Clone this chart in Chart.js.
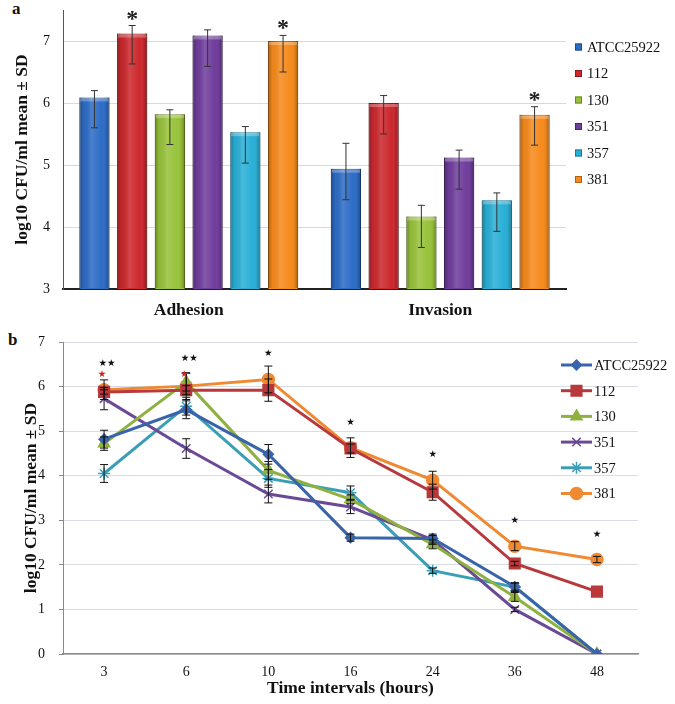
<!DOCTYPE html>
<html>
<head>
<meta charset="utf-8">
<script src="https://cdn.jsdelivr.net/npm/chart.js@4.4.0/dist/chart.umd.min.js"></script>
<style>
  body { margin: 0; background: #fff; width: 675px; height: 704px; position: relative; overflow: hidden; }
  canvas { position: absolute; left: 0; }
  #ca { top: 0; }
  #cb { top: 330px; }
  .tag { position: absolute; font: bold 17px "Liberation Serif", serif; color: #111; }
</style>
</head>
<body>
<div class="tag" style="left:12px;top:-1px">a</div>
<div class="tag" style="left:8px;top:330px">b</div>
<canvas id="ca" width="675" height="325"></canvas>
<canvas id="cb" width="675" height="374"></canvas>
<script>
const F = '"Liberation Serif", "Times New Roman", serif';

// panel a: adhesion / invasion, log10 CFU/ml
const strains = ['ATCC25922', '112', '130', '351', '357', '381'];
const phases = ['Adhesion', 'Invasion'];
const adhesionMean = [6.09, 7.12, 5.82, 7.09, 5.53, 7.00];
const adhesionErrUp = [0.11, 0.13, 0.07, 0.09, 0.09, 0.09];
const adhesionErrDown = [0.49, 0.49, 0.49, 0.50, 0.50, 0.50];
const invasionMean = [4.94, 6.00, 4.17, 5.12, 4.43, 5.81];
const invasionErrUp = [0.41, 0.12, 0.18, 0.12, 0.12, 0.13];
const invasionErrDown = [0.50, 0.50, 0.50, 0.51, 0.50, 0.49];
const adhesionSig = ['', '*', '', '', '', '*'];
const invasionSig = ['', '', '', '', '', '*'];

// panel b: time course
const hours = ['3', '6', '10', '16', '24', '36', '48'];
const lineATCC = [4.82, 5.48, 4.48, 2.61, 2.59, 1.51, 0];
const line112 = [5.88, 5.92, 5.92, 4.61, 3.63, 2.03, 1.40];
const line130 = [4.72, 6.10, 4.12, 3.47, 2.46, 1.28, 0];
const line351 = [5.73, 4.61, 3.59, 3.30, 2.56, 1.00, 0];
const line357 = [4.05, 5.56, 3.94, 3.62, 1.87, 1.50, 0];
const line381 = [5.93, 6.01, 6.16, 4.63, 3.90, 2.42, 2.12];
const sdATCC = [0.20, 0.20, 0.22, 0.08, 0.10, 0.08, 0];
const sd112 = [0.05, 0.10, 0.25, 0.10, 0.18, 0.05, 0];
const sd130 = [0.15, 0.20, 0.20, 0.10, 0.10, 0.10, 0];
const sd351 = [0.25, 0.22, 0.20, 0.15, 0.10, 0.05, 0];
const sd357 = [0.20, 0.20, 0.20, 0.15, 0.06, 0.10, 0];
const sd381 = [0.22, 0.30, 0.30, 0.22, 0.20, 0.10, 0.07];
const sigMarks = ['★★', '★★', '★', '★', '★', '★', '★'];
const sigLevel = [6.52, 6.64, 6.75, 5.19, 4.48, 2.99, 2.69];
const redSigLevel = [6.28, 6.28, null, null, null, null, null];

const barColors = ['#2d6cc6', '#cc282d', '#98c23a', '#6f3d9c', '#29afd6', '#f68a1c'];
const barEdges = ['#1c4a8e', '#8e1a1e', '#6a8a22', '#4a2670', '#1a7c99', '#b8600c'];
const lineColors = ['#3a64aa', '#b8383b', '#8fb140', '#6a4a96', '#3a9eb6', '#f08a32'];
const markers = [
  { style: 'rectRot', r: 5 }, { style: 'rect', r: 7.5 }, { style: 'triangle', r: 6.5 },
  { style: 'crossRot', r: 6 }, { style: 'star', r: 6 }, { style: 'circle', r: 6 }
];

function noPad(s) { s.paddingTop = 0; s.paddingBottom = 0; }

// ---------- panel a ----------
const barExtras = {
  id: 'barExtras',
  afterDatasetsDraw(chart) {
    const ctx = chart.ctx, ys = chart.scales.y, bottom = chart.chartArea.bottom;
    ctx.save();
    chart.data.datasets.forEach((ds, i) => {
      chart.getDatasetMeta(i).data.forEach((el, j) => {
        const p = el.getProps(['x', 'y', 'base', 'width'], true);
        const l = p.x - p.width / 2;
        const b = Math.min(p.base, bottom - 1);
        // glossy shading
        const g = ctx.createLinearGradient(l, 0, l + p.width, 0);
        g.addColorStop(0, 'rgba(0,0,0,0.30)');
        g.addColorStop(0.15, 'rgba(0,0,0,0.04)');
        g.addColorStop(0.4, 'rgba(255,255,255,0.14)');
        g.addColorStop(0.75, 'rgba(255,255,255,0)');
        g.addColorStop(0.9, 'rgba(0,0,0,0.10)');
        g.addColorStop(1, 'rgba(0,0,0,0.32)');
        ctx.fillStyle = g;
        ctx.fillRect(l, p.y, p.width, b - p.y);
        ctx.fillStyle = 'rgba(255,255,255,0.28)';
        ctx.fillRect(l + 1, p.y + 1, p.width - 2, 3);
        // error bar
        const up = ys.getPixelForValue(ds.data[j] + ds.errUp[j]);
        const dn = ys.getPixelForValue(ds.data[j] - ds.errDown[j]);
        ctx.strokeStyle = '#333';
        ctx.lineWidth = 1;
        ctx.beginPath();
        ctx.moveTo(p.x, up); ctx.lineTo(p.x, dn);
        ctx.moveTo(p.x - 3.5, up); ctx.lineTo(p.x + 3.5, up);
        ctx.moveTo(p.x - 3.5, dn); ctx.lineTo(p.x + 3.5, dn);
        ctx.stroke();
        // significance
        if (ds.sig[j]) {
          ctx.fillStyle = '#222';
          ctx.font = 'bold 24px ' + F;
          ctx.textAlign = 'center';
          ctx.textBaseline = 'alphabetic';
          ctx.fillText(ds.sig[j], p.x, up);
        }
      });
    });
    ctx.restore();
  },
  afterDraw(chart) {
    const ctx = chart.ctx;
    ctx.save();
    ctx.font = '14.5px ' + F;
    ctx.textBaseline = 'middle';
    ctx.textAlign = 'left';
    strains.forEach((s, i) => {
      const y = 47 + i * 26.5;
      ctx.fillStyle = barColors[i];
      ctx.fillRect(575, y - 3.5, 7, 7);
      ctx.strokeStyle = barEdges[i];
      ctx.lineWidth = 1;
      ctx.strokeRect(575.5, y - 3, 6, 6);
      ctx.fillStyle = '#111';
      ctx.fillText(s, 587, y + 1);
    });
    ctx.restore();
  }
};

new Chart(document.getElementById('ca'), {
  type: 'bar',
  data: {
    labels: phases,
    datasets: strains.map((s, i) => ({
      label: s,
      data: [adhesionMean[i], invasionMean[i]],
      errUp: [adhesionErrUp[i], invasionErrUp[i]],
      errDown: [adhesionErrDown[i], invasionErrDown[i]],
      sig: [adhesionSig[i], invasionSig[i]],
      backgroundColor: barColors[i],
      borderColor: barEdges[i],
      borderWidth: 1,
      barPercentage: 0.8,
      categoryPercentage: 0.9
    }))
  },
  options: {
    responsive: false,
    animation: false,
    layout: { padding: { left: 8, right: 109, top: 10, bottom: 0 } },
    plugins: { legend: { display: false }, tooltip: { enabled: false } },
    scales: {
      x: {
        grid: { display: false, drawTicks: false },
        border: { color: '#222', width: 2 },
        ticks: { color: '#111', font: { family: F, size: 17.5, weight: 'bold' }, padding: 11 },
        afterFit(s) { s.height = 36; }
      },
      y: {
        min: 3, max: 7.5,
        ticks: { stepSize: 1, color: '#111', font: { family: F, size: 14 }, padding: 13 },
        grid: { color: '#d9d9d9', drawTicks: false },
        border: { color: '#555' },
        title: { display: true, text: 'log10 CFU/ml mean ± SD', color: '#111', font: { family: F, size: 17.5, weight: 'bold' } },
        afterBuildTicks(s) { s.ticks = s.ticks.filter(t => Number.isInteger(t.value)); },
        afterFit(s) { s.width = 55; noPad(s); }
      }
    }
  },
  plugins: [barExtras]
});

// ---------- panel b ----------
const lineExtras = {
  id: 'lineExtras',
  afterDatasetsDraw(chart) {
    const ctx = chart.ctx, xs = chart.scales.x, ys = chart.scales.y;
    ctx.save();
    ctx.strokeStyle = '#111';
    ctx.lineWidth = 1;
    chart.data.datasets.forEach((ds, i) => {
      chart.getDatasetMeta(i).data.forEach((pt, j) => {
        const sd = ds.sd[j];
        if (!sd) return;
        const up = ys.getPixelForValue(ds.data[j] + sd);
        const dn = ys.getPixelForValue(ds.data[j] - sd);
        ctx.beginPath();
        ctx.moveTo(pt.x, up); ctx.lineTo(pt.x, dn);
        ctx.moveTo(pt.x - 4, up); ctx.lineTo(pt.x + 4, up);
        ctx.moveTo(pt.x - 4, dn); ctx.lineTo(pt.x + 4, dn);
        ctx.stroke();
      });
    });
    ctx.font = '9.5px "DejaVu Sans"';
    ctx.textAlign = 'center';
    ctx.textBaseline = 'middle';
    hours.forEach((h, j) => {
      const x = xs.getPixelForValue(j);
      ctx.fillStyle = '#111';
      ctx.fillText(sigMarks[j], x + (sigMarks[j].length > 1 ? 3 : 0), ys.getPixelForValue(sigLevel[j]));
      if (redSigLevel[j] != null) {
        ctx.fillStyle = '#d8201e';
        ctx.fillText('★', x - 2, ys.getPixelForValue(redSigLevel[j]));
      }
    });
    ctx.restore();
  },
  afterDraw(chart) {
    const ctx = chart.ctx;
    ctx.save();
    ctx.font = '14.5px ' + F;
    ctx.textBaseline = 'middle';
    ctx.textAlign = 'left';
    strains.forEach((s, i) => {
      const y = 35 + i * 25.7;
      ctx.strokeStyle = lineColors[i];
      ctx.fillStyle = lineColors[i];
      ctx.lineWidth = 3;
      ctx.beginPath();
      ctx.moveTo(561, y); ctx.lineTo(592, y);
      ctx.stroke();
      ctx.lineWidth = 1.5;
      Chart.helpers.drawPoint(ctx, { pointStyle: markers[i].style, radius: markers[i].r, rotation: 0, borderWidth: 1.5 }, 576.5, y);
      ctx.fillStyle = '#111';
      ctx.fillText(s, 594, y + 1);
    });
    ctx.restore();
  }
};

const series = [lineATCC, line112, line130, line351, line357, line381];
const sds = [sdATCC, sd112, sd130, sd351, sd357, sd381];

new Chart(document.getElementById('cb'), {
  type: 'line',
  data: {
    labels: hours,
    datasets: strains.map((s, i) => ({
      label: s,
      data: series[i],
      sd: sds[i],
      borderColor: lineColors[i],
      backgroundColor: lineColors[i],
      borderWidth: 3,
      pointStyle: markers[i].style,
      pointRadius: markers[i].r,
      pointBorderWidth: 1.5,
      pointBorderColor: lineColors[i],
      pointBackgroundColor: lineColors[i],
      tension: 0
    }))
  },
  options: {
    responsive: false,
    animation: false,
    layout: { padding: { left: 17, right: 37, top: 12, bottom: 0 } },
    plugins: { legend: { display: false }, tooltip: { enabled: false } },
    scales: {
      x: {
        offset: true,
        grid: { display: false, drawTicks: false },
        border: { color: '#8a8a8a', width: 1.5 },
        ticks: { color: '#111', font: { family: F, size: 14 }, padding: 10 },
        title: { display: true, text: 'Time intervals (hours)', color: '#111', padding: { top: 0, bottom: 5 }, font: { family: F, size: 17.5, weight: 'bold' } },
        afterFit(s) { s.height = 50; }
      },
      y: {
        min: 0, max: 7,
        ticks: { stepSize: 1, color: '#111', font: { family: F, size: 14 }, padding: 14 },
        grid: { color: '#dadde3', tickLength: 4, tickColor: '#888' },
        border: { color: '#8a8a8a' },
        title: { display: true, text: 'log10 CFU/ml mean ± SD', color: '#111', font: { family: F, size: 17.5, weight: 'bold' } },
        afterFit(s) { s.width = 46; noPad(s); }
      }
    }
  },
  plugins: [lineExtras]
});
</script>
</body>
</html>
